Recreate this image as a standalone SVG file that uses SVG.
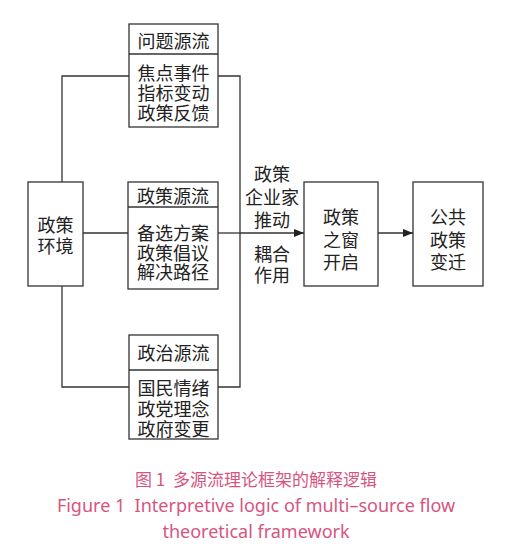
<svg xmlns="http://www.w3.org/2000/svg" width="505" height="559" viewBox="0 0 505 559">
<defs>
<marker id="arr" markerWidth="10" markerHeight="8" refX="10" refY="4" orient="auto" markerUnits="userSpaceOnUse">
<path d="M0,0 L10,4 L0,8 Z" fill="#222"/>
</marker>
<style>
.box{fill:#fff;stroke:#333;stroke-width:1.3}
.ln{fill:none;stroke:#333;stroke-width:1.3}
.t{font-family:"Noto Sans CJK SC","Noto Sans CJK JP",sans-serif;font-size:18px;fill:#222;text-anchor:middle;dominant-baseline:central}
.cap{font-family:"Noto Sans CJK SC",sans-serif;font-size:17px;fill:#d6557f;text-anchor:middle;dominant-baseline:central}
.capE{font-family:"Noto Sans","Liberation Sans",sans-serif;font-size:18px;fill:#d6557f;text-anchor:middle;dominant-baseline:central}
</style>
</defs>
<rect width="505" height="559" fill="#fff"/>
<g id="connectors">
<path class="ln" d="M62,182 V76 H129"/>
<path class="ln" d="M62,286 V387 H129"/>
<path class="ln" d="M83,233 H128"/>
<path class="ln" d="M218,76 H240 V387 H218"/>
<path class="ln" d="M218,233 H240"/>
<path class="ln" d="M240,233 H304" marker-end="url(#arr)"/>
<path class="ln" d="M378,233 H413" marker-end="url(#arr)"/>
</g>
<g id="env">
<rect class="box" x="28" y="182" width="55" height="104"/>
<text class="t"><tspan x="55.5" y="224">政策</tspan><tspan x="55.5" y="245">环境</tspan></text>
</g>
<g id="problem">
<rect class="box" x="129" y="24" width="89" height="103"/>
<line class="ln" x1="129" y1="54" x2="218" y2="54"/>
<text class="t" x="173.5" y="40">问题源流</text>
<text class="t"><tspan x="173.5" y="72">焦点事件</tspan><tspan x="173.5" y="92">指标变动</tspan><tspan x="173.5" y="112">政策反馈</tspan></text>
</g>
<g id="policy">
<rect class="box" x="128" y="182" width="90" height="107"/>
<line class="ln" x1="128" y1="207" x2="218" y2="207"/>
<text class="t" x="173" y="195">政策源流</text>
<text class="t"><tspan x="173" y="232">备选方案</tspan><tspan x="173" y="251.5">政策倡议</tspan><tspan x="173" y="271">解决路径</tspan></text>
</g>
<g id="politics">
<rect class="box" x="129" y="335" width="89" height="104"/>
<line class="ln" x1="129" y1="370" x2="218" y2="370"/>
<text class="t" x="173.5" y="352">政治源流</text>
<text class="t"><tspan x="173.5" y="387">国民情绪</tspan><tspan x="173.5" y="407.5">政党理念</tspan><tspan x="173.5" y="428">政府变更</tspan></text>
</g>
<g id="label">
<text class="t"><tspan x="272" y="173">政策</tspan><tspan x="272" y="196">企业家</tspan><tspan x="272" y="219">推动</tspan></text>
<text class="t"><tspan x="272" y="253">耦合</tspan><tspan x="272" y="274">作用</tspan></text>
</g>
<g id="window">
<rect class="box" x="304" y="182" width="74" height="104"/>
<text class="t"><tspan x="341" y="216">政策</tspan><tspan x="341" y="239">之窗</tspan><tspan x="341" y="261">开启</tspan></text>
</g>
<g id="change">
<rect class="box" x="413" y="182" width="70" height="104"/>
<text class="t"><tspan x="448" y="216">公共</tspan><tspan x="448" y="239">政策</tspan><tspan x="448" y="261">变迁</tspan></text>
</g>
<g id="caption">
<text class="cap" x="256" y="478" xml:space="preserve">图 1  多源流理论框架的解释逻辑</text>
<text class="capE" x="256" y="505" xml:space="preserve">Figure 1  Interpretive logic of multi–source flow</text>
<text class="capE" x="256" y="531">theoretical framework</text>
</g>
</svg>
